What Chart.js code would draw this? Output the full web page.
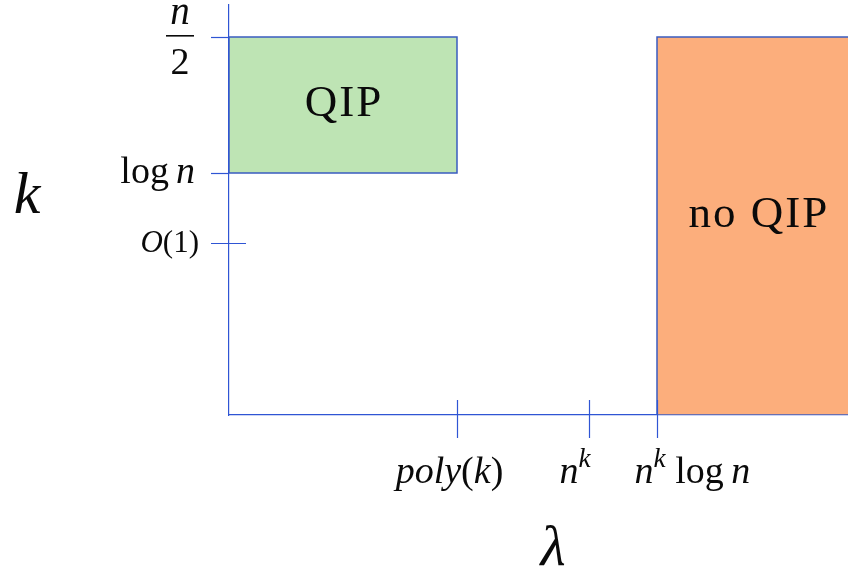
<!DOCTYPE html>
<html>
<head>
<meta charset="utf-8">
<script src="https://cdn.jsdelivr.net/npm/chart.js@4.4.1/dist/chart.umd.min.js"></script>
<style>
body { margin: 0; background: #fff; }
</style>
</head>
<body>
<canvas id="regions" width="848" height="575"></canvas>
<script>
// axis ranges (lambda to the right, k upward)
let xMax = 619
let yMax = 410

let xTickValues = [228, 360, 428]
let xTickLabels = ['poly(k)', 'n^k', 'n^k log n']
let yTickValues = [378, 242, 172]
let yTickLabels = ['n/2', 'log n', 'O(1)']

// the two regions
let regionNames = ['QIP', 'no QIP']
let qipX = [0, 228]
let qipY = [242, 378]
let noQipX = [428, 640]
let noQipY = [0, 378]

let AXIS = '#2f55d4'
let SERIF = '"Liberation Serif", "DejaVu Serif", serif'

function box(xs, ys) {
	return [
		{x: xs[0], y: ys[0]}, {x: xs[1], y: ys[0]},
		{x: xs[1], y: ys[1]}, {x: xs[0], y: ys[1]},
		{x: xs[0], y: ys[0]}
	];
}

// draws a run of text pieces, each with its own style
function drawRich(ctx, parts, x, y, align) {
	let total = 0;
	parts.forEach(function(p) {
		ctx.font = (p.italic ? 'italic ' : '') + p.size + 'px ' + SERIF;
		p.w = ctx.measureText(p.t).width;
		total += p.w;
	});
	let cx = x;
	if (align == 'center') cx = x - total / 2;
	if (align == 'right') cx = x - total;
	ctx.textBaseline = 'alphabetic';
	ctx.textAlign = 'left';
	parts.forEach(function(p) {
		ctx.font = (p.italic ? 'italic ' : '') + p.size + 'px ' + SERIF;
		ctx.fillText(p.t, cx, y + (p.dy || 0));
		cx += p.w;
	});
}

function labelParts(label, size) {
	if (label == 'poly(k)') return [
		{t: 'poly', italic: true, size: size}, {t: '(', size: size},
		{t: 'k', italic: true, size: size}, {t: ')', size: size}];
	if (label == 'n^k') return [
		{t: 'n', italic: true, size: size}, {t: 'k', italic: true, size: size * 0.72, dy: -16}];
	if (label == 'n^k log n') return [
		{t: 'n', italic: true, size: size}, {t: 'k', italic: true, size: size * 0.72, dy: -16},
		{t: ' ', size: size}, {t: 'log', size: size},
		{t: ' ', size: size * 0.8}, {t: 'n', italic: true, size: size}];
	if (label == 'log n') return [
		{t: 'log', size: size}, {t: ' ', size: size * 0.75}, {t: 'n', italic: true, size: size}];
	if (label == 'O(1)') return [
		{t: 'O', italic: true, size: size}, {t: '(1)', size: size}];
	return [{t: label, size: size}];
}

let marksPlugin = {
	id: 'marks',
	afterDraw: function(chart) {
		let ctx = chart.ctx;
		let xs = chart.scales.x, ys = chart.scales.y;
		let x0 = xs.getPixelForValue(0), y0 = ys.getPixelForValue(0);
		ctx.save();
		ctx.strokeStyle = AXIS;
		ctx.lineWidth = 1.2;
		ctx.fillStyle = '#0a0a0a';

		// k axis ticks
		yTickValues.forEach(function(v, i) {
			let py = Math.round(ys.getPixelForValue(v)) + 0.5;
			let right = yTickLabels[i] == 'O(1)' ? x0 + 17 : x0;
			ctx.beginPath();
			ctx.moveTo(x0 - 18, py);
			ctx.lineTo(right, py);
			ctx.stroke();
			if (yTickLabels[i] == 'n/2') {
				ctx.font = 'italic 39px ' + SERIF;
				ctx.textAlign = 'center';
				ctx.fillText('n', x0 - 49, py - 14);
				ctx.font = '38px ' + SERIF;
				ctx.fillText('2', x0 - 49, py + 36);
				ctx.fillRect(x0 - 63, py - 2.5, 28, 1.6);
			} else if (yTickLabels[i] == 'log n') {
				drawRich(ctx, labelParts('log n', 38), x0 - 34, py + 9, 'right');
			} else {
				drawRich(ctx, labelParts(yTickLabels[i], 31), x0 - 30, py + 8, 'right');
			}
		});

		// lambda axis ticks
		xTickValues.forEach(function(v, i) {
			let px = Math.round(xs.getPixelForValue(v)) + 0.5;
			ctx.beginPath();
			ctx.moveTo(px, y0 - 15);
			ctx.lineTo(px, y0 + 23);
			ctx.stroke();
			let parts = labelParts(xTickLabels[i], 38);
			if (i == 0) drawRich(ctx, parts, px - 8, y0 + 68, 'center');
			else drawRich(ctx, parts, px - 30 + (i == 2 ? 7 : 0), y0 + 68, 'left');
		});

		// axis titles
		ctx.font = 'italic 60px ' + SERIF;
		ctx.textAlign = 'center';
		ctx.fillText('k', 27, 213);
		ctx.font = 'italic 58px ' + SERIF;
		ctx.fillText('\u03bb', 553, 565);

		// region names
		ctx.letterSpacing = '2px';
		let boxes = [[qipX, qipY], [noQipX, noQipY]];
		regionNames.forEach(function(name, i) {
			let bx = boxes[i][0], by = boxes[i][1];
			let px = i == 0 ? (xs.getPixelForValue(bx[0]) + xs.getPixelForValue(bx[1])) / 2 : chart.chartArea.left + 529;
			let py = (ys.getPixelForValue(by[0]) + ys.getPixelForValue(by[1])) / 2;
			drawRich(ctx, [{t: name, size: 45}], px + 1, py + (i == 0 ? 11 : 1), 'center');
		});
		ctx.restore();
	}
};

let regionChart = new Chart(document.getElementById('regions'), {
	type: 'scatter',
	data: {
		datasets: [{
			label: regionNames[0],
			data: box(qipX, qipY),
			showLine: true,
			fill: 'shape',
			backgroundColor: '#bee4b4',
			borderColor: '#3a5cc0',
			borderWidth: 1.5,
			pointRadius: 0,
			tension: 0
		}, {
			label: regionNames[1],
			data: box(noQipX, noQipY),
			showLine: true,
			fill: 'shape',
			backgroundColor: '#fcae7c',
			borderColor: '#3a5cc0',
			borderWidth: 1.5,
			pointRadius: 0,
			tension: 0
		}]
	},
	options: {
		responsive: false,
		animation: false,
		layout: {padding: {left: 229, top: 5, right: 0, bottom: 160}},
		plugins: {legend: {display: false}, tooltip: {enabled: false}},
		scales: {
			x: {
				type: 'linear', min: 0, max: xMax,
				grid: {display: false, drawTicks: false},
				ticks: {display: false},
				border: {display: true, color: AXIS, width: 1.2}
			},
			y: {
				type: 'linear', min: 0, max: yMax,
				grid: {display: false, drawTicks: false},
				ticks: {display: false},
				border: {display: true, color: AXIS, width: 1.2}
			}
		}
	},
	plugins: [marksPlugin]
});
</script>
</body>
</html>
